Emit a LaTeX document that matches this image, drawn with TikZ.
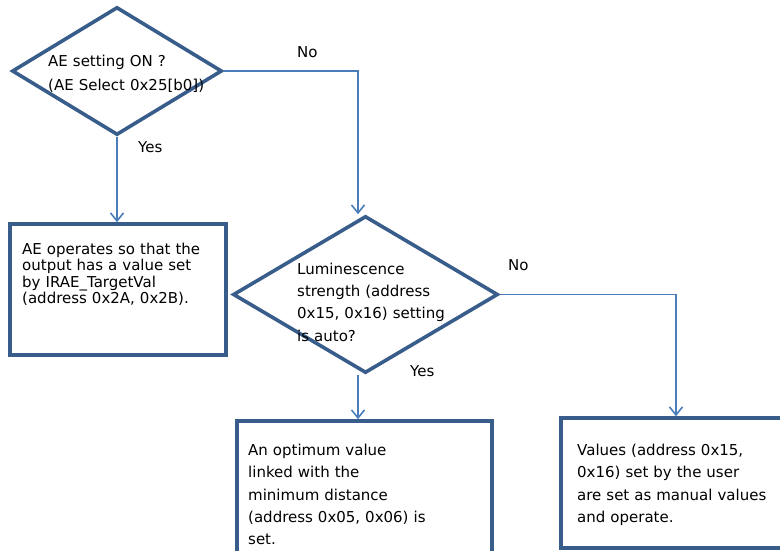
\documentclass[tikz,border=0pt]{standalone}
\usepackage{fontspec}
\setmainfont{DejaVu Sans}
\usetikzlibrary{shapes.geometric,arrows.meta}
\definecolor{shapeblue}{HTML}{385D8A}
\definecolor{lineblue}{HTML}{4A7EBB}
\tikzset{
  decision/.style={diamond, draw=shapeblue, line width=3.6pt, inner sep=0pt},
  actionbox/.style={rectangle, draw=shapeblue, line width=3.6pt, inner sep=0pt},
  conn/.style={draw=lineblue, line width=1.6pt, -{Straight Barb[length=8pt,width=13pt,line width=1.6pt]}},
  body/.style={anchor=base west, inner sep=0pt, align=left, text width=#1},
  body/.default=240pt,
  tag/.style={anchor=base west, inner sep=0pt, font=\fontsize{15}{18}\selectfont}
}
\begin{document}
\begin{tikzpicture}[x=1pt, y=-1pt]
  \useasboundingbox (0,0) rectangle (780,550);

  % decisions
  \node[decision, minimum width=210pt, minimum height=128pt] (d1) at (117,71) {};
  \node[decision, minimum width=265pt, minimum height=157pt] (d2) at (365.5,294.5) {};

  % action boxes
  \node[actionbox, minimum width=216pt, minimum height=131pt] (b1) at (118,289.5) {};
  \node[actionbox, minimum width=255pt, minimum height=170pt] (b2) at (364.5,506) {};
  \node[actionbox, minimum width=230pt, minimum height=130pt] (b3) at (676,483) {};

  % texts
  \node[body, font=\fontsize{15}{24}\selectfont] (t1) at (48,66.7)
    {AE setting ON ?\\(AE Select 0x25[b0])};
  \node[body, font=\fontsize{15}{22.3}\selectfont] (t2) at (297,274.3)
    {Luminescence\\strength (address\\0x15, 0x16) setting\\is auto?};
  \node[body, font=\fontsize{15}{16.6}\selectfont] (t3) at (22,254)
    {AE operates so that the\\output has a value set\\by IRAE\_TargetVal\\(address 0x2A, 0x2B).};
  \node[body, font=\fontsize{15}{22.2}\selectfont] (t4) at (248,455.7)
    {An optimum value\\linked with the\\minimum distance\\(address 0x05, 0x06) is\\set.};
  \node[body, font=\fontsize{15}{22.2}\selectfont] (t5) at (577,455.7)
    {Values (address 0x15,\\0x16) set by the user\\are set as manual values\\and operate.};

  % connectors
  \draw[conn] (d1.east) -| ([xshift=-7.5pt]d2.north);
  \draw[conn] (d1.south) -- (d1.south |- b1.north);
  \draw[conn] ([xshift=-7.5pt]d2.south) -- ([xshift=-7.5pt]d2.south |- b2.north);
  \draw[conn] (d2.east) -| (b3.north);

  % branch labels
  \node[tag] (n1) at (297,57.7) {No};
  \node[tag] (y1) at (138,152) {Yes};
  \node[tag] (n2) at (508,270) {No};
  \node[tag] (y2) at (410,376) {Yes};
\end{tikzpicture}
\end{document}
